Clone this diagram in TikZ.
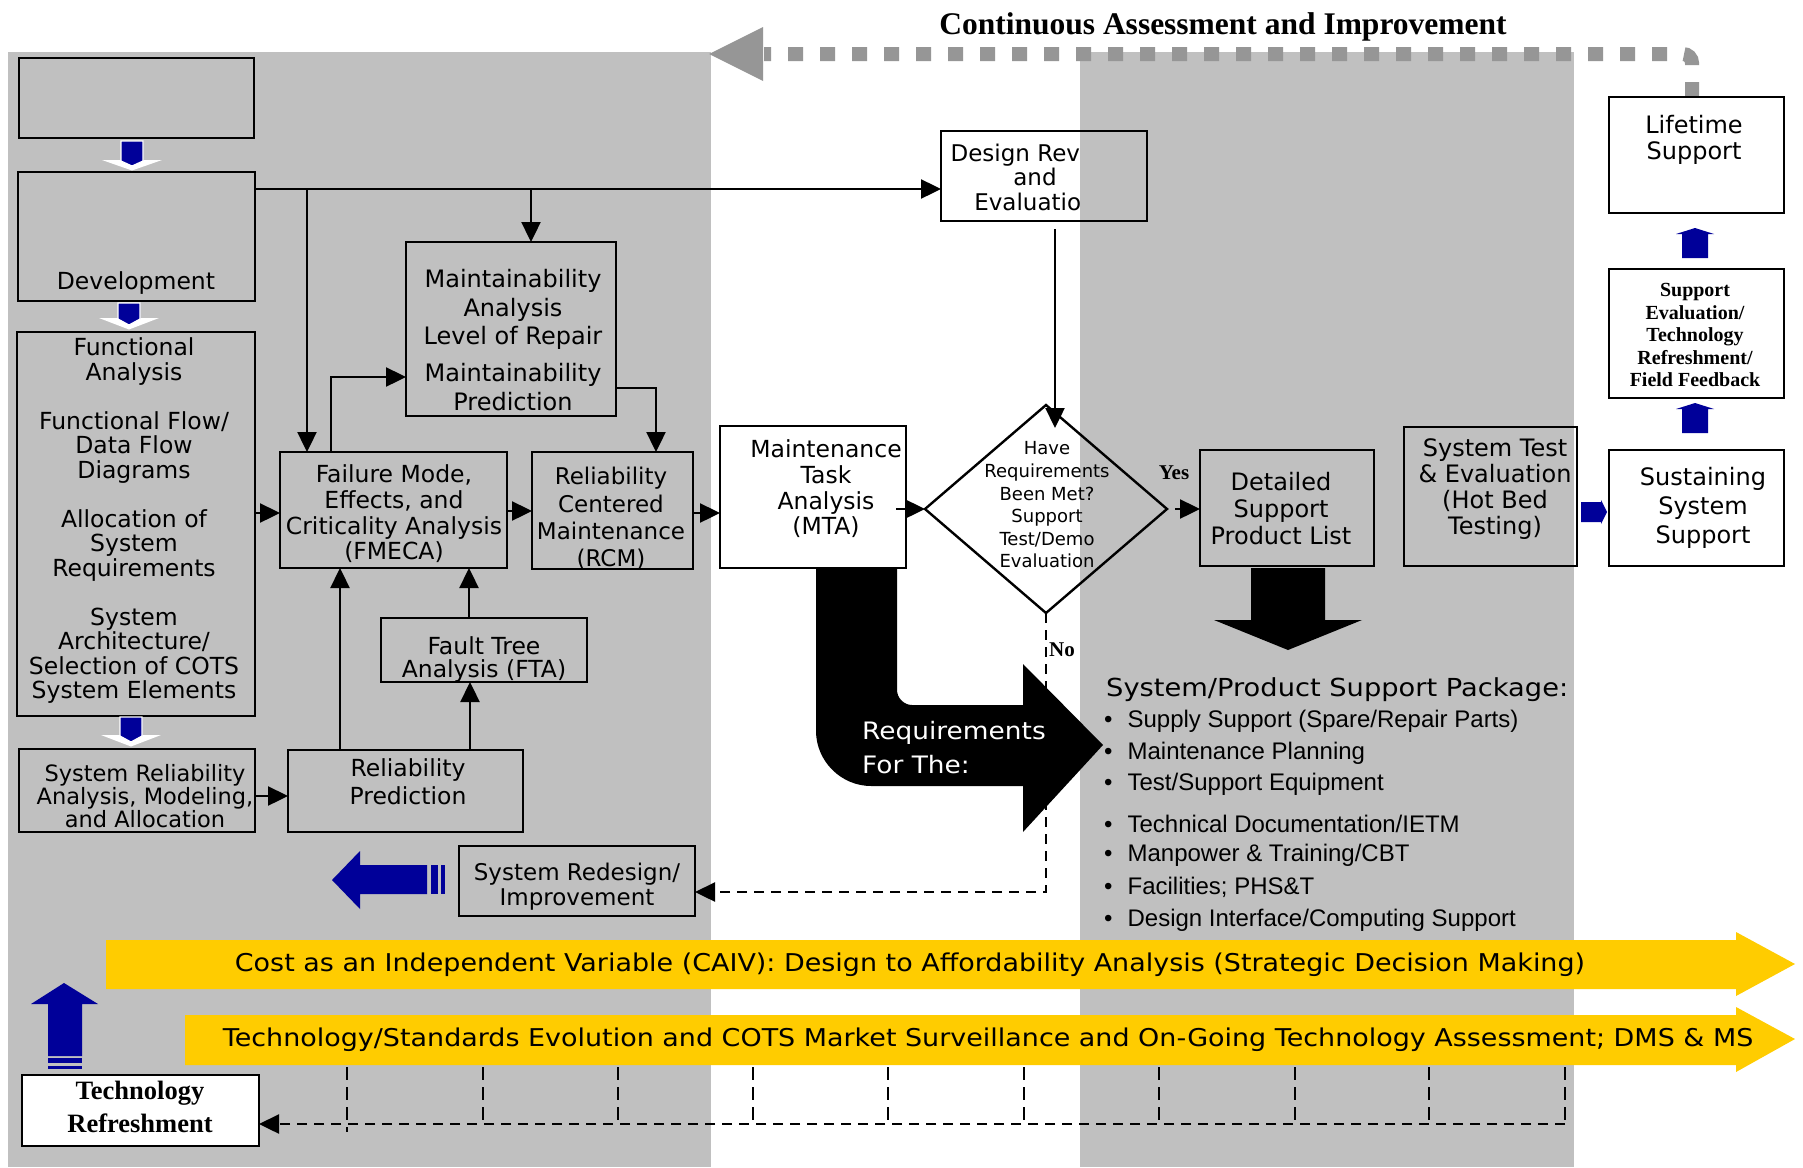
\documentclass[tikz,border=0pt]{standalone}
\usepackage{fontspec}
\setmainfont{Liberation Serif}
\newfontfamily\dv{DejaVu Sans}
\newfontfamily\dvw[FakeStretch=1.1]{DejaVu Sans}
\newfontfamily\lsans{Liberation Sans}
\usetikzlibrary{arrows.meta,shapes.geometric,calc}
\definecolor{panel}{HTML}{C0C0C0}
\definecolor{navy}{HTML}{000099}
\definecolor{ylw}{HTML}{FFCC00}
\definecolor{dgray}{HTML}{969696}
\newcommand\fsz[2]{\fontsize{#1pt}{#2pt}\selectfont}
\newcommand\bx[6][]{\node[bbox,#1,minimum width={(#5)-(#3)},minimum height={(#6)-(#4)}] (#2) at ({((#3)+(#5))/2},{((#4)+(#6))/2}) {};}
\newcommand\bluedown[4]{%
  \fill[white] ({#1-30},{#3-1}) -- ({#1+30},{#3-1}) -- (#1,{#4+1.5}) -- cycle;
  \fill[navy,draw=white,line width=1.2pt] ({#1-11},#2) -- ({#1+11},#2) -- ({#1+11},#3) -- (#1,{#4-3}) -- ({#1-11},#3) -- cycle;}
\newcommand\blueup[4]{% cx, bottom, headbase, tip
  \fill[navy] ({#1-13},#2) -- ({#1+13},#2) -- ({#1+13},#3) -- ({#1+19},#3) -- (#1,#4) -- ({#1-19},#3) -- ({#1-13},#3) -- cycle;}
\begin{document}
\begin{tikzpicture}[x=1pt,y=-1pt,
  bbox/.style={draw=black,line width=2.6pt,inner sep=0pt,outer sep=0pt},
  conn/.style={line width=2.4pt,-{Triangle[length=20pt,width=19pt]}},
  dconn/.style={line width=2.4pt,dash pattern=on 10pt off 7pt,-{Triangle[length=20pt,width=19pt]}},
  bdash/.style={line width=2.4pt,dash pattern=on 13pt off 7pt},
  lt/.style={font=\dv\fsz{23.5}{25.5},align=center,inner sep=0pt},
  sb/.style={font=\bfseries,inner sep=0pt,align=center}]
\fill[white] (0,0) rectangle (1803,1167);
\useasboundingbox (0,0) rectangle (1803,1167);
% Design review box (partly covered by the right panel)
\bx{dr}{941}{131}{1147}{221}
\node[lt,font=\dv\fsz{23}{24.5}] (tdr) at (1035,177) {Design Review\\and\\Evaluation};
% panels
\fill[panel] (8,52) rectangle (711,1167);
\fill[panel] (1080,52) rectangle (1574,1167);
\draw[line width=2.6pt] (dr.north west) rectangle (dr.south east);
% top continuous assessment arrow
\node[sb,font=\bfseries\fsz{31.5}{32}] (title) at (1223,27) {Continuous Assessment and Improvement};
\draw[dgray,line width=14pt,dash pattern=on 15pt off 17pt,rounded corners=9pt] (1692,97) -- (1692,54) -- (764,54);
\fill[dgray] (763,27) -- (709,54) -- (763,81) -- cycle;
% left boxes
\bx{b0}{19}{58}{254}{138}
\bx{dev}{18}{172}{255}{301}
\bx{func}{17}{332}{255}{716}
\bx{maint}{406}{242}{616}{416}
\bx{fmeca}{280}{452}{507}{568}
\bx{rcm}{532}{452}{693}{569}
\bx{fta}{381}{618}{587}{682}
\bx{relpred}{288}{750}{523}{832}
\bx{sysrel}{19}{749}{255}{832}
\bx{redes}{459}{846}{695}{916}
\bx[fill=white]{tr}{22}{1075}{259}{1146}
% middle / right boxes
\bx[fill=white]{mta}{720}{426}{906}{568}
\bx{det}{1200}{450}{1374}{566}
\bx{systest}{1404}{427}{1577}{566}
\bx[fill=white]{life}{1609}{97}{1784}{213}
\bx[fill=white]{supev}{1609}{269}{1784}{398}
\bx[fill=white]{sust}{1609}{450}{1784}{566}
\node[diamond,draw,line width=2.4pt,minimum width=242pt,minimum height=208pt,inner sep=0pt,outer sep=0pt] (dia) at (1046,509) {};
% texts
\node[lt] (tdev) at (136,283.5) {Development};
\node[lt,font=\dv\fsz{23.5}{24.5}] (tfunc) at (134,521) {Functional\\Analysis\\[24.5pt]Functional Flow/\\Data Flow\\Diagrams\\[24.5pt]Allocation of\\System\\Requirements\\[24.5pt]System\\Architecture/\\Selection of COTS\\System Elements};
\node[lt,font=\dv\fsz{24}{28.5}] (tmaint) at (513,340) {Maintainability\\Analysis\\Level of Repair\\[8.5pt]Maintainability\\Prediction};
\node[lt,font=\dv\fsz{23.5}{25.7}] (tfmeca) at (394,514) {Failure Mode,\\Effects, and\\Criticality Analysis\\(FMECA)};
\node[lt,font=\dv\fsz{23}{27.3}] (trcm) at (611,518.5) {Reliability\\Centered\\Maintenance\\(RCM)};
\node[lt,font=\dv\fsz{23.5}{23}] (tfta) at (484,660) {Fault Tree\\Analysis (FTA)};
\node[lt,font=\dv\fsz{23.5}{28}] (trp) at (408,781.5) {Reliability\\Prediction};
\node[lt,font=\dv\fsz{22.5}{23}] (tsr) at (145,796.5) {System Reliability\\Analysis, Modeling,\\and Allocation};
\node[lt,font=\dv\fsz{23}{25}] (tredes) at (577,887) {System Redesign/\\Improvement};
\node[sb,font=\bfseries\fsz{26.5}{33}] (ttr) at (140,1107) {Technology\\Refreshment};
\node[lt,font=\dv\fsz{23.5}{25.7}] (tmta) at (826,489) {Maintenance\\Task\\Analysis\\(MTA)};
\node[lt,font=\dv\fsz{18}{22.6}] (tdia) at (1047,505) {Have\\Requirements\\Been Met?\\Support\\Test/Demo\\Evaluation};
\node[lt,font=\dv\fsz{24}{27}] (tdet) at (1281,508.5) {Detailed\\Support\\Product List};
\node[lt,font=\dv\fsz{24}{26}] (tst) at (1495,489.5) {System Test\\\& Evaluation\\(Hot Bed\\Testing)};
\node[lt,font=\dv\fsz{24}{26}] (tlife) at (1694,139.5) {Lifetime\\Support};
\node[lt,font=\dv\fsz{24}{29}] (tsust) at (1703,507.5) {Sustaining\\System\\Support};
\node[sb,font=\bfseries\fsz{20}{22.5}] (tsupev) at (1695,335) {Support\\Evaluation/\\Technology\\Refreshment/\\Field Feedback};
\node[sb,font=\bfseries\fsz{21}{22}] (yes) at (1174,473) {Yes};
\node[sb,font=\bfseries\fsz{21}{22},anchor=west] (no) at (1049,650) {No};
% connectors
\draw[conn] (dev.east |- 0,189) -- (dr.west |- 0,189);
\draw[conn] (307,189) -- (fmeca.north -| 307,0);
\draw[conn] (531,189) -- (maint.north -| 531,0);
\draw[conn] (fmeca.north -| 331,0) -- (331,377) -- (maint.west |- 0,377);
\draw[conn] (maint.east |- 0,388) -- (656,388) -- (rcm.north -| 656,0);
\draw[conn] (func.east |- 0,513) -- (fmeca.west |- 0,513);
\draw[conn] (fmeca.east |- 0,511) -- (rcm.west |- 0,511);
\draw[conn] (rcm.east |- 0,513) -- (mta.west |- 0,513);
\draw[conn] (relpred.north -| 340,0) -- (fmeca.south -| 340,0);
\draw[conn] (relpred.north -| 470,0) -- (fta.south -| 470,0);
\draw[conn] (fta.north -| 469,0) -- (fmeca.south -| 469,0);
\draw[conn] (sysrel.east |- 0,796) -- (relpred.west |- 0,796);
\draw[conn] ($(mta.east |- dia.west)+(-10,0)$) -- (dia.west);
\draw[conn] ($(dr.south -| 1055,0)+(0,8)$) -- ($(dia.north -| 1055,0)+(0,23)$);
\draw[conn] ($(dia.east)+(8,0)$) -- (det.west |- dia.east);
\draw[dconn] (dia.south) -- (dia.south |- 0,892) -- (redes.east |- 0,892);
% big black arrow
\fill[black] (816,567) -- (816,731) .. controls (816,761) and (841,786) .. (871,786) -- (1023,786) -- (1023,832) -- (1103,745) -- (1023,664) -- (1023,705) -- (912,705) .. controls (904,705) and (897,698) .. (897,690) -- (897,567) -- cycle;
\node[font=\dvw\fsz{24}{34},text=white,align=left,anchor=west,inner sep=0pt] (treq) at (862,747.5) {Requirements\\For The:};
% detailed support down arrow
\fill[black] (1251,568) -- (1325,568) -- (1325,620) -- (1362,620) -- (1288,650) -- (1214,620) -- (1251,620) -- cycle;
% package list
\node[font=\dvw\fsz{24.8}{26},anchor=west,inner sep=0pt] (tpkg) at (1106,689.5) {System/Product Support Package:};
\node[font=\lsans\fsz{24}{25},anchor=west,inner sep=0pt] (l1) at (1104,721.5) {\textbullet\hspace{15pt}Supply Support (Spare/Repair Parts)};
\node[font=\lsans\fsz{24}{25},anchor=west,inner sep=0pt] (l2) at (1104,753.5) {\textbullet\hspace{15pt}Maintenance Planning};
\node[font=\lsans\fsz{24}{25},anchor=west,inner sep=0pt] (l3) at (1104,784.5) {\textbullet\hspace{15pt}Test/Support Equipment};
\node[font=\lsans\fsz{24}{25},anchor=west,inner sep=0pt] (l4) at (1104,823.5) {\textbullet\hspace{15pt}Technical Documentation/IETM};
\node[font=\lsans\fsz{24}{25},anchor=west,inner sep=0pt] (l5) at (1104,855.5) {\textbullet\hspace{15pt}Manpower \& Training/CBT};
\node[font=\lsans\fsz{24}{25},anchor=west,inner sep=0pt] (l6) at (1104,887.5) {\textbullet\hspace{15pt}Facilities; PHS\&T};
\node[font=\lsans\fsz{24}{25},anchor=west,inner sep=0pt] (l7) at (1104,920.5) {\textbullet\hspace{15pt}Design Interface/Computing Support};
% blue arrows
\bluedown{132}{141}{161}{169}
\bluedown{129}{303}{319}{328}
\bluedown{131}{717}{736}{745}
\blueup{1695}{258}{234}{228}
\blueup{1695}{433}{409}{403}
\fill[navy] (1581,502) -- (1601,502) -- (1601,500) -- (1607,512) -- (1601,524) -- (1601,522) -- (1581,522) -- cycle;
\fill[navy] (332,880) -- (360,851) -- (360,865) -- (427,865) -- (427,894) -- (360,894) -- (360,909) -- cycle;
\fill[navy] (431,865) rectangle (438,894);
\fill[navy] (441,865) rectangle (445,894);
\fill[navy] (64,983) -- (98,1004) -- (82,1004) -- (82,1056) -- (48,1056) -- (48,1004) -- (31,1004) -- cycle;
\fill[navy] (48,1058) rectangle (82,1063);
\fill[navy] (48,1066) rectangle (82,1069);
% banners
\fill[ylw] (106,940) -- (1736,940) -- (1736,932) -- (1795,964) -- (1736,996) -- (1736,989) -- (106,989) -- cycle;
\fill[ylw] (185,1015) -- (1736,1015) -- (1736,1007) -- (1795,1039) -- (1736,1072) -- (1736,1065) -- (185,1065) -- cycle;
\node[lt,font=\dvw\fsz{24.5}{25}] (tcaiv) at (910,964.5) {Cost as an Independent Variable (CAIV): Design to Affordability Analysis (Strategic Decision Making)};
\node[lt,font=\dvw\fsz{24.5}{25}] (ttech) at (988,1039.5) {Technology/Standards Evolution and COTS Market Surveillance and On-Going Technology Assessment; DMS \& MS};
% bottom dashed feedback
\coordinate (fb) at (1565,1124);
\draw[bdash] (347,1067) -- (347,1132);
\foreach \xx in {483,618,753,888,1024,1159,1295,1429,1565} \draw[bdash] (\xx,1067) -- (\xx,1124);
\draw[dconn] (fb) -- (tr.east |- fb);
\end{tikzpicture}
\end{document}
